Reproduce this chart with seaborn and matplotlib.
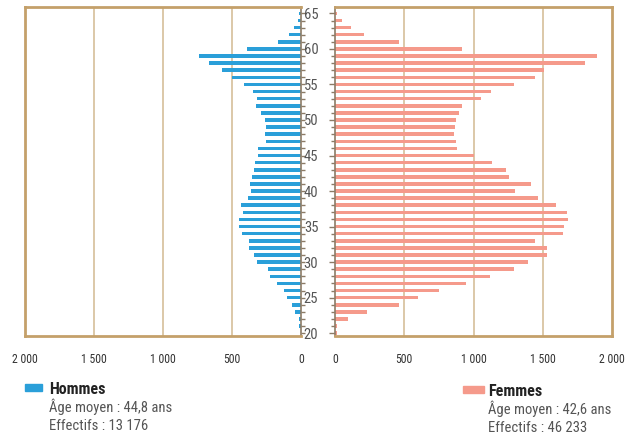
import matplotlib
matplotlib.use("Agg")
import matplotlib.pyplot as plt
import matplotlib.font_manager as fm
from matplotlib.patches import Rectangle
import pandas as pd
import seaborn as sns

# ages 20 -> 65
ages = list(range(20, 66))
hommes = [0, 15, 15, 41, 62, 99, 120, 171, 222, 236,
          316, 338, 374, 374, 425, 447, 447, 418, 432, 381,
          360, 367, 352, 338, 330, 309, 309, 251, 258, 251,
          258, 287, 323, 316, 345, 410, 500, 570, 670, 740,
          390, 170, 90, 50, 25, 15]
femmes = [14, 14, 94, 231, 462, 599, 751, 946, 1119, 1292,
          1394, 1531, 1531, 1444, 1646, 1653, 1682, 1675, 1596, 1466,
          1300, 1415, 1256, 1235, 1134, 1004, 881, 874, 859, 866,
          874, 895, 917, 1054, 1126, 1292, 1444, 1509, 1805, 1892,
          917, 462, 209, 116, 51, 17]
x_ticks = [0, 500, 1000, 1500, 2000]
x_labels = ["0", "500", "1 000", "1 500", "2 000"]
age_ticks = [20, 25, 30, 35, 40, 45, 50, 55, 60, 65]

df = pd.DataFrame({"age": ages, "Hommes": hommes, "Femmes": femmes})

sns.set_style("white")
names = {f.name for f in fm.fontManager.ttflist}
font = "DejaVu Sans"
for cand in ["Roboto Condensed", "Liberation Sans Narrow", "Open Sans Condensed"]:
    if cand in names:
        font = cand
        break
plt.rcParams["font.family"] = [font, "DejaVu Sans"]

bleu = "#2a9fd9"
saumon = "#f59a8b"
cadre = "#c4a06a"
grille = "#d6bf9a"
axe = "#8c7b66"

fig = plt.figure(figsize=(6.4, 4.36), dpi=100)
ax_h = fig.add_axes([25 / 640, 1 - 336 / 436, 276 / 640, 329 / 436])
ax_f = fig.add_axes([335 / 640, 1 - 336 / 436, 277 / 640, 329 / 436])

sns.barplot(data=df, y="age", x="Hommes", orient="h", order=ages,
            color=bleu, width=0.5, saturation=1, ax=ax_h)
sns.barplot(data=df, y="age", x="Femmes", orient="h", order=ages,
            color=saumon, width=0.5, saturation=1, ax=ax_f)

for ax in (ax_h, ax_f):
    ax.set_ylim(-0.4, 45.9)
    ax.set_xlabel("")
    ax.set_ylabel("")
    ax.set_xticks(x_ticks)
    ax.set_xticklabels(x_labels, fontsize=8.5, color="#333333")
    ax.tick_params(axis="x", length=0, pad=12)
    for v in x_ticks[1:-1]:
        ax.axvline(v, color=grille, lw=1.2, zorder=0)
    for s in ax.spines.values():
        s.set_color(cadre)
        s.set_linewidth(2)
    for b in ax.patches:
        b.set_edgecolor("none")

ax_h.set_xlim(2000, 0)
ax_f.set_xlim(0, 2000)

# graduations sur les axes intérieurs
ax_h.spines["right"].set_color(axe)
ax_h.spines["right"].set_linewidth(1.2)
ax_h.yaxis.tick_right()
ax_h.set_yticks([a - 20 for a in ages])
ax_h.set_yticklabels([])
ax_h.tick_params(axis="y", direction="out", length=3, color=axe, width=1)

ax_f.spines["left"].set_color(axe)
ax_f.spines["left"].set_linewidth(1.2)
ax_f.yaxis.tick_left()
ax_f.set_yticks([a - 20 for a in ages], minor=True)
ax_f.set_yticks([a - 20 for a in age_ticks])
ax_f.set_yticklabels([str(a) for a in age_ticks], fontsize=10.5, color="#555555")
ax_f.tick_params(axis="y", which="major", direction="out", length=4, color=axe, width=1, pad=8)
ax_f.tick_params(axis="y", which="minor", direction="out", length=3, color=axe, width=1)

# légendes
fig.patches.append(Rectangle((25 / 640, 1 - 391 / 436), 17 / 640, 7 / 436,
                             transform=fig.transFigure, color=bleu))
fig.text(49 / 640, 1 - 394 / 436, "Hommes", fontsize=11.5, fontweight="bold", color="#222222")
fig.text(49 / 640, 1 - 412 / 436, "Âge moyen : 44,8 ans", fontsize=10.5, color="#555555")
fig.text(49 / 640, 1 - 429.5 / 436, "Effectifs : 13 176", fontsize=10.5, color="#555555")

fig.patches.append(Rectangle((463 / 640, 1 - 393 / 436), 21 / 640, 7 / 436,
                             transform=fig.transFigure, color=saumon))
fig.text(488 / 640, 1 - 396 / 436, "Femmes", fontsize=11.5, fontweight="bold", color="#222222")
fig.text(488 / 640, 1 - 414 / 436, "Âge moyen : 42,6 ans", fontsize=10.5, color="#555555")
fig.text(488 / 640, 1 - 431.5 / 436, "Effectifs : 46 233", fontsize=10.5, color="#555555")

fig.savefig("out.png", dpi=100)
